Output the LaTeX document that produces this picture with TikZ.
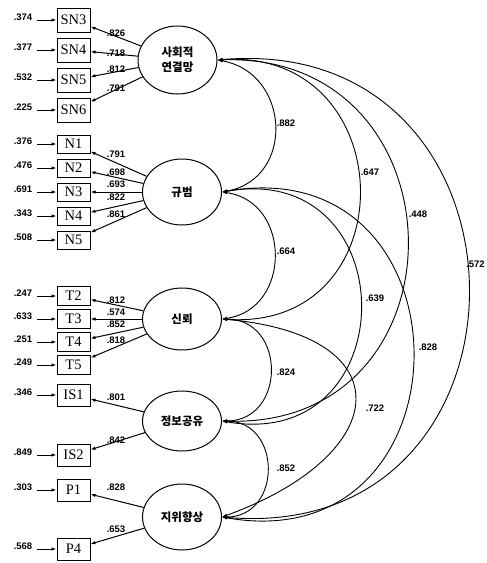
\documentclass[tikz,border=0pt]{standalone}
\usepackage{fontspec}
\setmainfont{Liberation Serif}
\newfontfamily\numfont{Liberation Sans}
\newfontfamily\kofont{Noto Sans CJK KR}
\usetikzlibrary{arrows.meta,shapes.geometric}

\newcommand*{\errx}{23}
\newcommand*{\obsx}{73.5}
\newcommand*{\coefx}{116}
\newcommand*{\latx}{182}

\begin{document}
\begin{tikzpicture}
[
	x=1pt,y=1pt,
	obs/.style={draw,line width=1pt,minimum width=33pt,minimum height=20pt,inner sep=0pt,font=\fontsize{14.5}{14.5}\selectfont},
	lat/.style={ellipse,draw,line width=1pt,minimum width=79pt,minimum height=66pt,inner sep=0pt,align=center,font=\kofont\bfseries\fontsize{11.5}{15}\selectfont},
	num/.style={inner sep=1pt,font=\numfont\bfseries\fontsize{9.5}{10}\selectfont},
	err/.style={num,yshift=3pt},
	load/.style={-{Latex[length=5pt,width=3.5pt]},line width=1pt},
	cov/.style={{Latex[length=5pt,width=3.5pt]}-{Latex[length=5pt,width=3.5pt]},line width=0.9pt}
]

	\useasboundingbox (0,0) rectangle (487,-563);

	% latent variables
	\node[lat,minimum height=68pt] (sn) at (177.5,-60) {사회적\\연결망};
	\node[lat] (nrm) at (\latx,-192) {규범};
	\node[lat,minimum height=62pt] (tru) at (\latx,-319) {신뢰};
	\node[lat,minimum height=60pt] (isr) at (\latx,-421) {정보공유};
	\node[lat] (stat) at (\latx,-517) {지위향상};

	% observed variables
	\node[obs,minimum height=24pt] (sn3) at (\obsx,-20) {SN3};
	\node[obs,minimum height=24pt] (sn4) at (\obsx,-50) {SN4};
	\node[obs,minimum height=24pt] (sn5) at (\obsx,-80) {SN5};
	\node[obs,minimum height=24pt] (sn6) at (\obsx,-110) {SN6};

	\node[obs,minimum height=18pt] (n1) at (\obsx,-144) {N1};
	\node[obs,minimum height=18pt] (n2) at (\obsx,-168) {N2};
	\node[obs,minimum height=18pt] (n3) at (\obsx,-192) {N3};
	\node[obs,minimum height=18pt] (n4) at (\obsx,-216) {N4};
	\node[obs,minimum height=18pt] (n5) at (\obsx,-240) {N5};

	\node[obs,minimum height=19pt] (t2) at (\obsx,-296) {T2};
	\node[obs,minimum height=19pt] (t3) at (\obsx,-319) {T3};
	\node[obs,minimum height=19pt] (t4) at (\obsx,-342) {T4};
	\node[obs,minimum height=19pt] (t5) at (\obsx,-365) {T5};

	\node[obs,minimum height=22pt] (is1) at (\obsx,-395) {IS1};
	\node[obs,minimum height=22pt] (is2) at (\obsx,-455) {IS2};

	\node[obs,minimum height=22pt] (p1) at (\obsx,-490) {P1};
	\node[obs,minimum height=22pt] (p4) at (\obsx,-549) {P4};

	% error variances
	\node[err] (esn3) at (\errx,-20) {.374};
	\node[err] (esn4) at (\errx,-50) {.377};
	\node[err] (esn5) at (\errx,-80) {.532};
	\node[err] (esn6) at (\errx,-110) {.225};
	\node[err] (en1) at (\errx,-144) {.376};
	\node[err] (en2) at (\errx,-168) {.476};
	\node[err] (en3) at (\errx,-192) {.691};
	\node[err] (en4) at (\errx,-216) {.343};
	\node[err] (en5) at (\errx,-240) {.508};
	\node[err] (et2) at (\errx,-296) {.247};
	\node[err] (et3) at (\errx,-319) {.633};
	\node[err] (et4) at (\errx,-342) {.251};
	\node[err] (et5) at (\errx,-365) {.249};
	\node[err] (eis1) at (\errx,-395) {.346};
	\node[err] (eis2) at (\errx,-455) {.849};
	\node[err] (ep1) at (\errx,-490) {.303};
	\node[err] (ep4) at (\errx,-549) {.568};

	\draw[load,shorten <=4pt] (esn3.east |- sn3) -- (sn3);
	\draw[load,shorten <=4pt] (esn4.east |- sn4) -- (sn4);
	\draw[load,shorten <=4pt] (esn5.east |- sn5) -- (sn5);
	\draw[load,shorten <=4pt] (esn6.east |- sn6) -- (sn6);
	\draw[load,shorten <=4pt] (en1.east |- n1) -- (n1);
	\draw[load,shorten <=4pt] (en2.east |- n2) -- (n2);
	\draw[load,shorten <=4pt] (en3.east |- n3) -- (n3);
	\draw[load,shorten <=4pt] (en4.east |- n4) -- (n4);
	\draw[load,shorten <=4pt] (en5.east |- n5) -- (n5);
	\draw[load,shorten <=4pt] (et2.east |- t2) -- (t2);
	\draw[load,shorten <=4pt] (et3.east |- t3) -- (t3);
	\draw[load,shorten <=4pt] (et4.east |- t4) -- (t4);
	\draw[load,shorten <=4pt] (et5.east |- t5) -- (t5);
	\draw[load,shorten <=4pt] (eis1.east |- is1) -- (is1);
	\draw[load,shorten <=4pt] (eis2.east |- is2) -- (is2);
	\draw[load,shorten <=4pt] (ep1.east |- p1) -- (p1);
	\draw[load,shorten <=4pt] (ep4.east |- p4) -- (p4);

	% loadings
	\draw[load] (sn) -- (sn3);
	\draw[load] (sn) -- (sn4);
	\draw[load] (sn) -- (sn5);
	\draw[load] (sn) -- (sn6);
	\draw[load] (nrm) -- (n1);
	\draw[load] (nrm) -- (n2);
	\draw[load] (nrm) -- (n3);
	\draw[load] (nrm) -- (n4);
	\draw[load] (nrm) -- (n5);
	\draw[load] (tru) -- (t2);
	\draw[load] (tru) -- (t3);
	\draw[load] (tru) -- (t4);
	\draw[load] (tru) -- (t5);
	\draw[load] (isr) -- (is1);
	\draw[load] (isr) -- (is2);
	\draw[load] (stat) -- (p1);
	\draw[load] (stat) -- (p4);

	\node[num] (lsn3) at (\coefx,-33) {.826};
	\node[num] (lsn4) at (\coefx,-53) {.718};
	\node[num] (lsn5) at (\coefx,-69) {.812};
	\node[num] (lsn6) at (\coefx,-88) {.791};
	\node[num] (ln1) at (\coefx,-154) {.791};
	\node[num] (ln2) at (\coefx,-172) {.698};
	\node[num] (ln3) at (\coefx,-184) {.693};
	\node[num] (ln4) at (\coefx,-197) {.822};
	\node[num] (ln5) at (\coefx,-214) {.861};
	\node[num] (lt2) at (\coefx,-300) {.812};
	\node[num] (lt3) at (\coefx,-312) {.574};
	\node[num] (lt4) at (\coefx,-324) {.852};
	\node[num] (lt5) at (\coefx,-340) {.818};
	\node[num] (lis1) at (\coefx,-397) {.801};
	\node[num] (lis2) at (\coefx,-440) {.842};
	\node[num] (lp1) at (\coefx,-487) {.828};
	\node[num] (lp4) at (\coefx,-529) {.653};

	% correlations
	\draw[cov] (sn.east) to[out=-10,in=10,looseness=1.44] (nrm.east);
	\draw[cov] (sn.east) to[out=4,in=-4,looseness=1.84] (tru.east);
	\draw[cov] (sn.east) to[out=2,in=-2,looseness=1.77] (isr.east);
	\draw[cov] (sn.east) to[out=5,in=-5,looseness=1.86] (stat.east);
	\draw[cov] (nrm.east) to[out=-8,in=8,looseness=1.42] (tru.east);
	\draw[cov] (nrm.east) to[out=10,in=-10,looseness=2.1] (isr.east);
	\draw[cov] (nrm.east) to[out=10,in=-10,looseness=2.04] (stat.east);
	\draw[cov] (tru.east) to[out=0,in=0,looseness=1.62] (isr.east);
	\draw[cov] (tru.east) to[out=-5,in=20,looseness=2.37] (stat.east);
	\draw[cov] (isr.east) to[out=0,in=0,looseness=1.61] (stat.east);

	\node[num] (rsnnrm) at (286,-123) {.882};
	\node[num] (rsntru) at (370,-172) {.647};
	\node[num] (rsnisr) at (418,-214) {.448};
	\node[num] (rsnstat) at (475.5,-264) {.572};
	\node[num] (rnrmtru) at (286,-251) {.664};
	\node[num] (rnrmisr) at (375,-298) {.639};
	\node[num] (rnrmstat) at (428,-347) {.828};
	\node[num] (rtruisr) at (286,-372) {.824};
	\node[num] (rtrustat) at (375,-408) {.722};
	\node[num] (risrstat) at (286,-468) {.852};

\end{tikzpicture}
\end{document}
